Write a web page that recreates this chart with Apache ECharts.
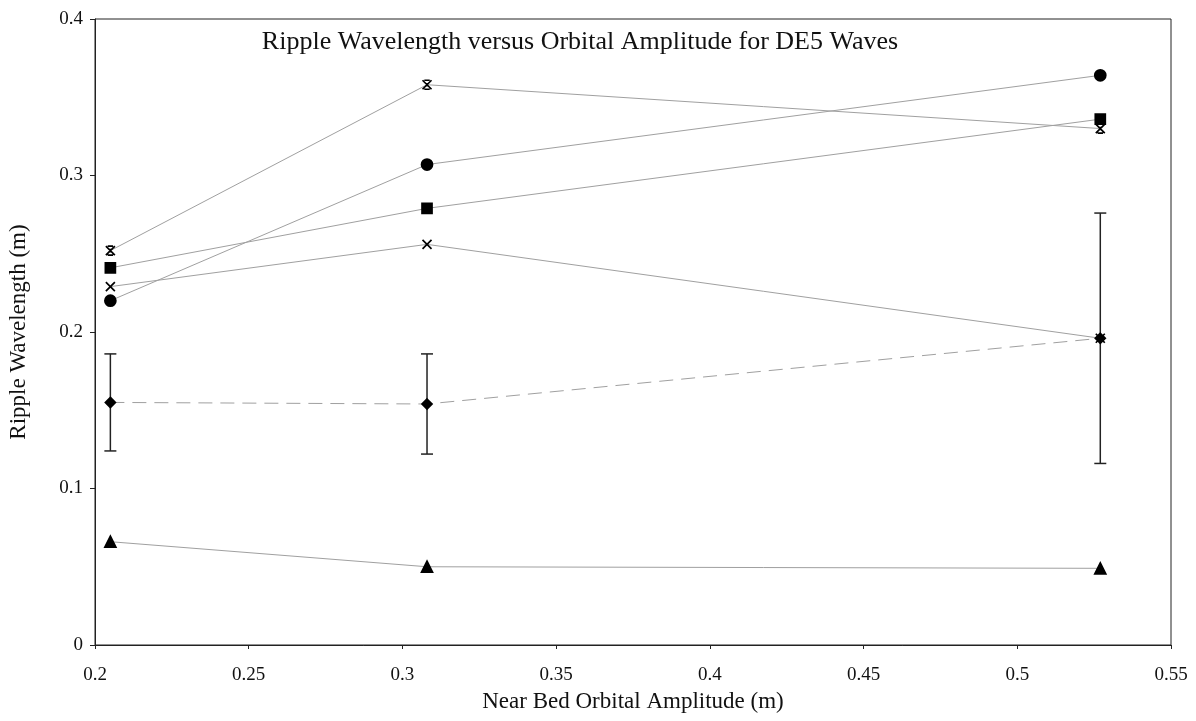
<!DOCTYPE html>
<html>
<head>
<meta charset="utf-8">
<script src="https://cdn.jsdelivr.net/npm/echarts@6/dist/echarts.min.js"></script>
<style>
  html, body { margin: 0; padding: 0; background: #fff; }
  #chart { width: 1196px; height: 721px; }
</style>
</head>
<body>
<div id="chart"></div>
<script>
// orbital amplitude (m) of the three DE5 wave runs
const amplitude = [0.205, 0.308, 0.527];

// ripple wavelength (m), one array per marker
const starVals = [0.252, 0.358, 0.330];
const squareVals = [0.241, 0.279, 0.336];
const crossVals = [0.229, 0.256, 0.196];
const circleVals = [0.220, 0.307, 0.364];
const diamondVals = [0.155, 0.154, 0.196];
const diamondErr = [0.031, 0.032, 0.080];
const triangleVals = [0.066, 0.050, 0.049];

const xTicks = { min: 0.2, max: 0.55, interval: 0.05 };
const yTicks = { min: 0, max: 0.4, interval: 0.1 };

const SERIF = '"Liberation Serif", "DejaVu Serif", serif';
const LINE_GREY = '#a0a0a0';

function pairs(ys){
    return ys.map(function(y, i){ return [amplitude[i], y]; });
}

function errorData(){
    return diamondVals.map(function(v, i){
        return [amplitude[i], v - diamondErr[i], v + diamondErr[i]];
    });
}

const crossPath = 'path://M0,0L10,10M10,0L0,10';
const starPath = 'path://M0,0L10,10M10,0L0,10M2,0L8,0M2,10L8,10M5,3L5,7';

function lineSeries(name, ys, symbol, size, dashed){
    return {
        name: name,
        type: 'line',
        data: pairs(ys),
        symbol: symbol,
        symbolSize: size,
        lineStyle: { color: LINE_GREY, width: 1, type: dashed ? [14, 8] : 'solid' },
        itemStyle: { color: '#000', borderColor: '#000', borderWidth: 1.7 },
        z: 3
    };
}

let chart = echarts.init(document.getElementById('chart'), null, { renderer: 'canvas' });

chart.setOption({
    animation: false,
    backgroundColor: '#fff',
    grid: {
        left: 95, right: 25, top: 19, bottom: 76,
        outerBoundsMode: 'none',
        containLabel: false,
        show: true, borderColor: '#222', borderWidth: 1
    },
    graphic: [{
        type: 'text',
        x: 580, y: 42,
        style: {
            text: 'Ripple Wavelength versus Orbital Amplitude for DE5 Waves',
            font: '26px ' + SERIF,
            fill: '#111',
            align: 'center',
            verticalAlign: 'middle'
        }
    }],
    xAxis: {
        type: 'value',
        min: xTicks.min, max: xTicks.max, interval: xTicks.interval,
        name: 'Near Bed Orbital Amplitude (m)',
        nameLocation: 'middle',
        nameGap: 45,
        nameTextStyle: { fontFamily: SERIF, fontSize: 23, color: '#111' },
        axisLine: { lineStyle: { color: '#222', width: 1 } },
        axisTick: { show: true, length: 4, inside: false, lineStyle: { color: '#222' } },
        axisLabel: { fontFamily: SERIF, fontSize: 19, color: '#111', margin: 21 },
        splitLine: { show: false }
    },
    yAxis: {
        type: 'value',
        min: yTicks.min, max: yTicks.max, interval: yTicks.interval,
        name: 'Ripple Wavelength (m)',
        nameLocation: 'middle',
        nameGap: 65,
        nameTextStyle: { fontFamily: SERIF, fontSize: 23, color: '#111' },
        axisLine: { lineStyle: { color: '#222', width: 1 } },
        axisTick: { show: true, length: 5, lineStyle: { color: '#222' } },
        axisLabel: { fontFamily: SERIF, fontSize: 19, color: '#111', margin: 12 },
        splitLine: { show: false }
    },
    series: [
        lineSeries('star', starVals, starPath, 9),
        lineSeries('square', squareVals, 'rect', 10),
        lineSeries('cross', crossVals, crossPath, 9),
        lineSeries('circle', circleVals, 'circle', 11),
        lineSeries('diamond', diamondVals, 'diamond', 10, true),
        lineSeries('triangle', triangleVals, 'triangle', 11),
        {
            name: 'error',
            type: 'custom',
            data: errorData(),
            z: 2,
            renderItem: function(params, api){
                let x = api.value(0);
                let lo = api.coord([x, api.value(1)]);
                let hi = api.coord([x, api.value(2)]);
                let cap = 6;
                let style = { stroke: '#222', lineWidth: 1.5 };
                return {
                    type: 'group',
                    children: [
                        { type: 'line', shape: { x1: lo[0], y1: lo[1], x2: hi[0], y2: hi[1] }, style: style },
                        { type: 'line', shape: { x1: lo[0] - cap, y1: lo[1], x2: lo[0] + cap, y2: lo[1] }, style: style },
                        { type: 'line', shape: { x1: hi[0] - cap, y1: hi[1], x2: hi[0] + cap, y2: hi[1] }, style: style }
                    ]
                };
            }
        }
    ]
});
</script>
</body>
</html>
